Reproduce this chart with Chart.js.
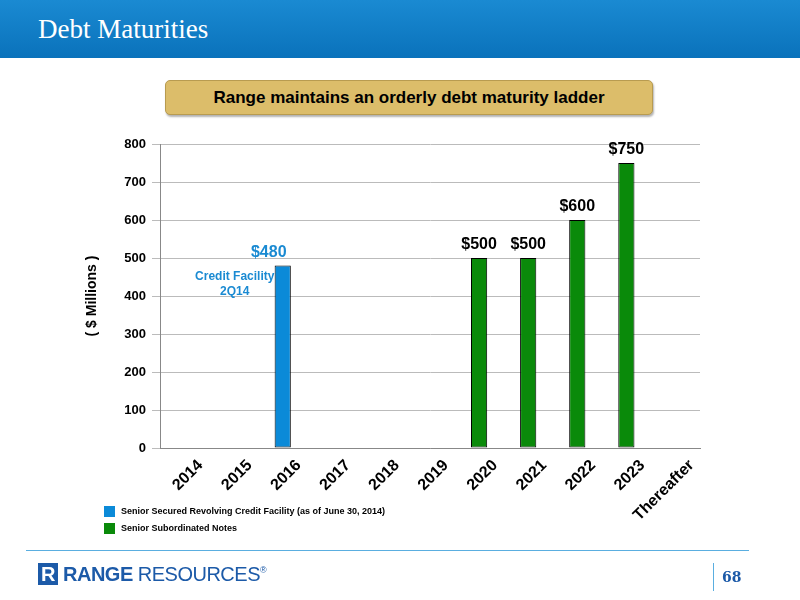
<!DOCTYPE html>
<html>
<head>
  <meta charset="utf-8" />
  <script src="https://cdn.jsdelivr.net/npm/chart.js"></script>
  <style>
    html, body { margin: 0; padding: 0; width: 800px; height: 600px; overflow: hidden; background: #fff; font-family: "Liberation Sans", Arial, sans-serif; }
    .header { position: absolute; left: 0; top: 0; width: 800px; height: 58px; background: linear-gradient(#1a8ad2, #0a72bb); }
    .header h1 { margin: 0; position: absolute; left: 38px; top: 14px; font: 27px "Liberation Serif", "DejaVu Serif", serif; color: #fff; font-weight: normal; }
    .banner { position: absolute; left: 165px; top: 80px; width: 486px; height: 33px; background: #dcbd6a; border: 1px solid #b89b50; border-radius: 5px; box-shadow: 1px 2px 2px rgba(0,0,0,0.3); text-align: center; line-height: 33px; font-weight: bold; font-size: 17px; }
    canvas { position: absolute; left: 0; top: 0; }
    .legend { position: absolute; left: 104px; font-size: 9px; font-weight: bold; }
    .legend span { display: inline-block; width: 11px; height: 11px; vertical-align: middle; margin-right: 6px; }
    .footline { position: absolute; left: 26px; top: 550px; width: 723px; height: 1px; background: #5aaee0; }
    .logo { position: absolute; left: 38px; top: 563px; font-size: 20px; color: #1c5aa8; letter-spacing: -0.5px; }
    .page { position: absolute; left: 713px; top: 563px; height: 28px; border-left: 1px solid #5aaee0; padding-left: 8px; color: #1c5aa8; font: bold 14px "DejaVu Serif", serif; line-height: 28px; }
  </style>
</head>
<body>
  <div class="header"><h1>Debt Maturities</h1></div>
  <div class="banner">Range maintains an orderly debt maturity ladder</div>
  <canvas id="c" width="800" height="600"></canvas>
  <div class="legend" style="top:506px"><span style="background:#0b8ad8"></span>Senior Secured Revolving Credit Facility (as of June 30, 2014)</div>
  <div class="legend" style="top:523px"><span style="background:#0a8a0a"></span>Senior Subordinated Notes</div>
  <div class="footline"></div>
  <div class="logo"><b style="background:#1c5aa8;color:#fff;padding:0 3px;">R</b> <b>RANGE</b> RESOURCES<sup style="font-size:9px">®</sup></div>
  <div class="page">68</div>
  <script>
    const categories = ['2014', '2015', '2016', '2017', '2018', '2019', '2020', '2021', '2022', '2023', 'Thereafter'];
    const creditFacility = [null, null, 480, null, null, null, null, null, null, null, null];
    const seniorNotes = [null, null, null, null, null, null, 500, 500, 600, 750, null];
    const yTicks = [0, 100, 200, 300, 400, 500, 600, 700, 800];

    const labelPlugin = {
      id: 'labels',
      afterDatasetsDraw(chart) {
        const ctx = chart.ctx;
        ctx.save();
        ctx.textAlign = 'center';
        ctx.textBaseline = 'bottom';
        ctx.font = 'bold 16px "Liberation Sans", Arial';
        chart.data.datasets.forEach((ds, i) => {
          chart.getDatasetMeta(i).data.forEach((bar, j) => {
            const v = ds.data[j];
            if (v == null) return;
            ctx.fillStyle = i === 0 ? '#1a8ad2' : '#000';
            const x = i === 0 ? bar.x - 14 : bar.x;
            ctx.fillText('$' + v, x, bar.y - 5);
            if (i === 0) {
              ctx.font = 'bold 12px "Liberation Sans", Arial';
              ctx.fillText('Credit Facility', bar.x - 48, bar.y + 17);
              ctx.fillText('2Q14', bar.x - 48, bar.y + 32);
              ctx.font = 'bold 16px "Liberation Sans", Arial';
            }
          });
        });
        ctx.restore();
      }
    };

    new Chart(document.getElementById('c'), {
      type: 'bar',
      data: {
        labels: categories,
        datasets: [
          { data: creditFacility, backgroundColor: '#0b8ad8', borderColor: '#000', borderWidth: 1, borderSkipped: false },
          { data: seniorNotes, backgroundColor: '#0a8a0a', borderColor: '#000', borderWidth: 1, borderSkipped: false }
        ]
      },
      options: {
        responsive: false,
        animation: false,
        layout: { padding: { left: 80, right: 100, top: 144, bottom: 52 } },
        plugins: { legend: { display: false }, tooltip: { enabled: false } },
        datasets: { bar: { barPercentage: 0.33, categoryPercentage: 1 } },
        scales: {
          x: {
            stacked: true,
            grid: { display: false },
            border: { color: '#888' },
            afterFit(s) { s.height = 100; },
            ticks: { maxRotation: 45, minRotation: 45, labelOffset: 16, padding: 0, color: '#000', font: { size: 16, weight: 'bold', family: '"Liberation Sans", Arial' } }
          },
          y: {
            stacked: true,
            min: 0, max: 800,
            afterFit(s) { s.width = 80; },
            afterBuildTicks(s) { s.ticks = yTicks.map(v => ({ value: v })); },
            grid: { color: '#bbb' },
            border: { color: '#888' },
            title: { display: true, text: '( $ Millions )', color: '#000', font: { size: 14, weight: 'bold', family: '"Liberation Sans", Arial' } },
            ticks: { color: '#000', padding: 6, font: { size: 13, weight: 'bold', family: '"Liberation Sans", Arial' } }
          }
        }
      },
      plugins: [labelPlugin]
    });
  </script>
</body>
</html>
